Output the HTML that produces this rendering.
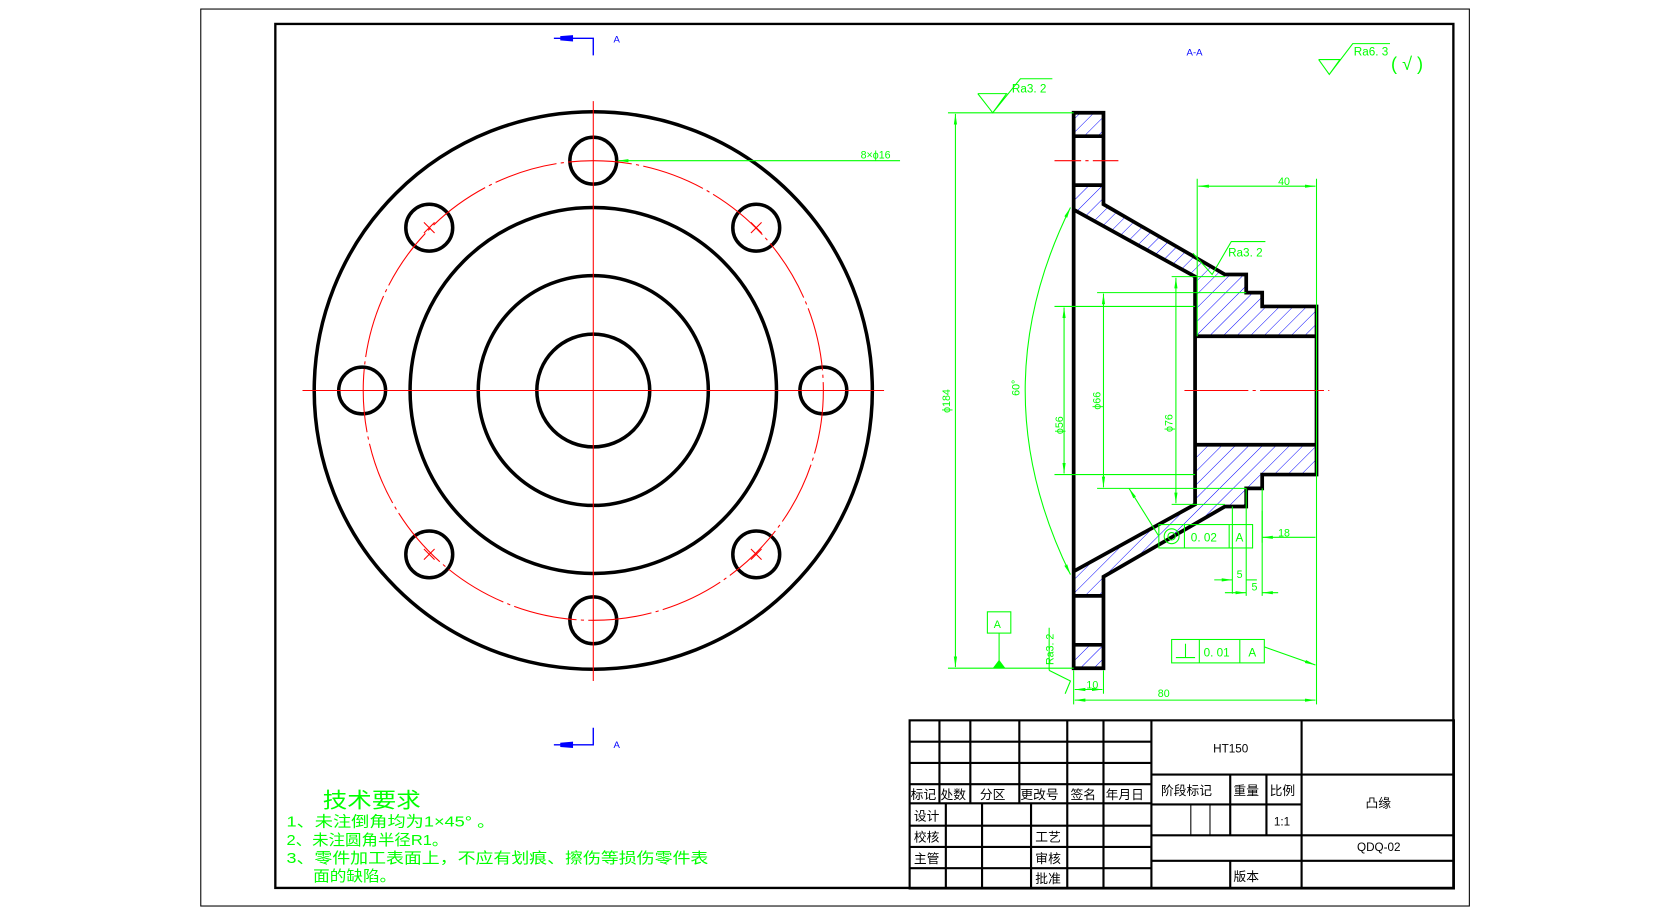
<!DOCTYPE html>
<html><head><meta charset="utf-8"><style>
html,body{margin:0;padding:0;background:#fff}
svg{display:block}
text{font-family:"Liberation Sans","Noto Sans CJK SC",sans-serif}
</style></head><body>
<svg width="1668" height="914" viewBox="0 0 1566 859" preserveAspectRatio="none" xmlns="http://www.w3.org/2000/svg">
<defs>
<pattern id="h" width="9" height="9" patternUnits="userSpaceOnUse" patternTransform="rotate(45)">
<line x1="0" y1="0" x2="0" y2="9" stroke="#0000ff" stroke-width="0.9"/>
</pattern>
<marker id="ar" markerWidth="10" markerHeight="6" refX="10" refY="3" orient="auto-start-reverse" markerUnits="userSpaceOnUse"><path d="M0,1.5 L10,3 L0,4.5z" fill="#00ff00"/></marker>
</defs>
<rect x="0" y="0" width="1566" height="859" fill="#fff"/>
<rect x="188.5" y="8.5" width="1191" height="843" fill="none" stroke="#000" stroke-width="1"/>
<rect x="258.5" y="22.5" width="1106" height="812" fill="none" stroke="#000" stroke-width="2.2"/>

<g stroke="#0000ff" fill="none" stroke-width="1.3">
<path d="M520,36 H557 V52"/><path d="M520,700 H557 V684"/>
</g>
<path d="M526,34 L538,33 L538,39 L526,38z" fill="#0000ff"/>
<path d="M526,698 L538,697 L538,703 L526,702z" fill="#0000ff"/>
<text x="576" y="40" font-size="9" fill="#0000ff">A</text>
<text x="576" y="703" font-size="9" fill="#0000ff">A</text>
<text x="1114" y="52" font-size="9" fill="#0000ff">A-A</text>

<g fill="none" stroke="#000" stroke-width="3.3">
<circle cx="557" cy="367" r="262"/>
<circle cx="557" cy="367" r="172"/>
<circle cx="557" cy="367" r="108"/>
<circle cx="557" cy="367" r="53"/>
<circle cx="557" cy="151" r="22"/><circle cx="557" cy="583" r="22"/>
<circle cx="340" cy="367" r="22"/><circle cx="773" cy="367" r="22"/>
<circle cx="403" cy="214" r="22"/><circle cx="710" cy="214" r="22"/>
<circle cx="403" cy="521" r="22"/><circle cx="710" cy="521" r="22"/>
</g>
<g stroke="#ff0000" fill="none" stroke-width="1">
<circle cx="557" cy="367" r="216" stroke-dasharray="60 4 3 4"/>
<line x1="284" y1="367" x2="830" y2="367"/>
<line x1="557" y1="95" x2="557" y2="640"/>
<path d="M398,209 l10,10 M408,209 l-10,10 M705,209 l10,10 M715,209 l-10,10 M398,516 l10,10 M408,516 l-10,10 M705,516 l10,10 M715,516 l-10,10"/>
</g>
<line x1="580" y1="151" x2="845" y2="151" stroke="#00ff00" stroke-width="1" marker-start="url(#ar)"/>
<text x="808" y="149" font-size="10" fill="#00ff00">8×ϕ16</text>

<g fill="url(#h)" stroke="none">
<rect x="1008" y="106" width="28" height="22"/>
<rect x="1008" y="606" width="28" height="22"/>
<polygon points="1008,174 1036,174 1036,192 1150,258 1170,258 1170,275 1185,275 1185,288 1236,288 1236,316 1122,316 1122,260 1008,197"/>
<polygon points="1008,560 1036,560 1036,542 1150,476 1170,476 1170,459 1185,459 1185,446 1236,446 1236,418 1122,418 1122,474 1008,537"/>
</g>
<g fill="none" stroke="#000" stroke-width="3.5" stroke-linejoin="miter">
<path d="M1008,106 H1036 V192 L1150,258 H1170 V275 H1185 V288 H1236 V446 H1185 V459 H1170 V476 H1150 L1036,542 V628 H1008 Z"/>
<path d="M1008,128 H1036 M1008,174 H1036 M1008,560 H1036 M1008,606 H1036"/>
<path d="M1008,197 L1122,260 V474 L1008,537"/>
<path d="M1122,316 H1236 M1122,418 H1236"/>
</g>
<g stroke="#ff0000" stroke-width="1"><line x1="990" y1="151" x2="1050" y2="151" stroke-dasharray="25 4 3 4"/><line x1="1112" y1="367" x2="1248" y2="367" stroke-dasharray="60 4 3 4"/></g>

<g stroke="#00ff00" stroke-width="1" fill="none">
<line x1="890" y1="106" x2="1008" y2="106"/>
<line x1="890" y1="628" x2="1008" y2="628"/>
<line x1="897" y1="107" x2="897" y2="627" marker-start="url(#ar)" marker-end="url(#ar)"/>
<path d="M1005,195 Q920,367 1005,540" marker-start="url(#ar)" marker-end="url(#ar)"/>
<line x1="990" y1="288" x2="1122" y2="288"/>
<line x1="990" y1="446" x2="1122" y2="446"/>
<line x1="999" y1="289" x2="999" y2="445" marker-start="url(#ar)" marker-end="url(#ar)"/>
<line x1="1030" y1="275" x2="1170" y2="275"/>
<line x1="1030" y1="459" x2="1170" y2="459"/>
<line x1="1036" y1="276" x2="1036" y2="458" marker-start="url(#ar)" marker-end="url(#ar)"/>
<line x1="1100" y1="260" x2="1150" y2="260"/>
<line x1="1100" y1="474" x2="1150" y2="474"/>
<line x1="1104" y1="261" x2="1104" y2="473" marker-start="url(#ar)" marker-end="url(#ar)"/>
<line x1="1124" y1="168" x2="1124" y2="316"/>
<line x1="1236" y1="168" x2="1236" y2="662"/>
<line x1="1125" y1="175" x2="1235" y2="175" marker-start="url(#ar)" marker-end="url(#ar)"/>
<line x1="1185" y1="459" x2="1185" y2="510"/>
<line x1="1185" y1="505" x2="1235" y2="505" marker-start="url(#ar)"/>
<line x1="1157" y1="476" x2="1157" y2="558"/>
<line x1="1170" y1="459" x2="1170" y2="560"/>
<line x1="1140" y1="545" x2="1157" y2="545" marker-end="url(#ar)"/>
<line x1="1170" y1="545" x2="1180" y2="545"/>
<line x1="1185" y1="480" x2="1185" y2="560"/>
<line x1="1150" y1="557" x2="1170" y2="557" marker-end="url(#ar)"/>
<line x1="1185" y1="557" x2="1200" y2="557" marker-start="url(#ar)"/>
<line x1="1008" y1="630" x2="1008" y2="662"/>
<line x1="1036" y1="630" x2="1036" y2="652"/>
<line x1="1009" y1="648" x2="1035" y2="648" marker-start="url(#ar)" marker-end="url(#ar)"/>
<line x1="1009" y1="658" x2="1235" y2="658" marker-start="url(#ar)" marker-end="url(#ar)"/>
<path d="M918,88 L945,88 L932,106 L918,88 M932,106 L958,74 H988"/>
<path d="M1238,56 L1258,56 L1248,70 L1238,56 M1248,70 L1270,41 H1305"/>
<path d="M1120,238 L1138,258 L1156,227 H1188"/>
<path d="M985,630 L1005,640 L1000,652 M985,630 L985,590"/>
<rect x="927" y="575" width="22" height="20"/>
<line x1="938" y1="595" x2="938" y2="622"/>
<rect x="1088" y="493" width="88" height="22"/>
<path d="M1112,493 V515 M1154,493 V515"/>
<circle cx="1100" cy="504" r="7"/><circle cx="1100" cy="504" r="3.5"/>
<line x1="1088" y1="504" x2="1060" y2="459" marker-end="url(#ar)"/>
<rect x="1100" y="601" width="87" height="22"/>
<path d="M1126,601 V623 M1164,601 V623 M1104,618 H1122 M1113,605 V618"/>
<line x1="1187" y1="608" x2="1235" y2="625" marker-end="url(#ar)"/>
</g>
<path d="M932,628 L938,620 L944,628z" fill="#00ff00"/>
<g fill="#00ff00" font-size="11">
<text x="950" y="87">Ra3. 2</text>
<text x="1271" y="52">Ra6. 3</text>
<text x="1306" y="66" font-size="17">( √ )</text>
<text x="1153" y="241">Ra3. 2</text>
<text x="1200" y="174" font-size="10">40</text>
<text x="1200" y="504" font-size="10">18</text>
<text x="1161" y="543" font-size="10">5</text>
<text x="1175" y="555" font-size="10">5</text>
<text x="1020" y="647" font-size="10">10</text>
<text x="1087" y="655" font-size="10">80</text>
<text x="933" y="590" font-size="10">A</text>
<text x="1118" y="509">0. 02</text><text x="1160" y="509">A</text>
<text x="1130" y="617">0. 01</text><text x="1172" y="617">A</text>
<text transform="translate(892,388) rotate(-90)" font-size="10">ϕ184</text>
<text transform="translate(957,372) rotate(-90)" font-size="10">60°</text>
<text transform="translate(998,408) rotate(-90)" font-size="10">ϕ56</text>
<text transform="translate(1033,385) rotate(-90)" font-size="10">ϕ66</text>
<text transform="translate(1101,406) rotate(-90)" font-size="10">ϕ76</text>
<text transform="translate(989,625) rotate(-90)" font-size="10">Ra3. 2</text>
</g>

<g fill="#00ff00">
<text x="303" y="759" font-size="20" textLength="92" lengthAdjust="spacingAndGlyphs">技术要求</text>
<text x="269" y="777" font-size="14" textLength="196" lengthAdjust="spacingAndGlyphs">1、未注倒角均为1×45° 。</text>
<text x="269" y="794" font-size="14" textLength="152" lengthAdjust="spacingAndGlyphs">2、未注圆角半径R1。</text>
<text x="269" y="811" font-size="14" textLength="396" lengthAdjust="spacingAndGlyphs">3、零件加工表面上，不应有划痕、擦伤等损伤零件表</text>
<text x="294" y="828" font-size="14" textLength="78" lengthAdjust="spacingAndGlyphs">面的缺陷。</text>
</g>

<g stroke="#000" stroke-width="2" fill="none">
<rect x="854" y="677" width="511" height="158"/>
<path d="M854,697 H1081 M854,717 H1081 M854,737 H1081 M854,755 H1081 M854,776 H1081 M854,796 H1081 M854,816 H1081"/>
<path d="M882,677 V755 M911,677 V755 M957,677 V755 M1002,677 V755 M1036,677 V835 M1081,677 V835"/>
<path d="M888,755 V835 M922,755 V835 M968,755 V835 M1002,755 V835"/>
<path d="M1081,728 H1365 M1081,756 H1222 M1081,785 H1365 M1081,809 H1365 M1222,677 V835"/>
<path d="M1155,728 V785 M1189,728 V785 M1155,809 V835"/>
</g>
<path d="M1118,756 V785 M1136,756 V785" stroke="#000" stroke-width="1"/>
<g fill="#000" font-size="12">
<text x="855" y="751">标记</text><text x="883" y="751">处数</text><text x="920" y="751">分区</text>
<text x="958" y="751">更改号</text><text x="1005" y="751">签名</text><text x="1038" y="751">年月日</text>
<text x="858" y="771">设计</text><text x="858" y="791">校核</text><text x="858" y="811">主管</text>
<text x="972" y="791">工艺</text><text x="972" y="811">审核</text><text x="972" y="830">批准</text>
<text x="1139" y="707" font-size="11">HT150</text>
<text x="1090" y="747">阶段标记</text><text x="1158" y="747">重量</text><text x="1192" y="747">比例</text>
<text x="1196" y="776" font-size="11">1:1</text>
<text x="1282" y="759">凸缘</text>
<text x="1274" y="800" font-size="11">QDQ-02</text>
<text x="1158" y="828">版本</text>
</g>
</svg>
</body></html>
